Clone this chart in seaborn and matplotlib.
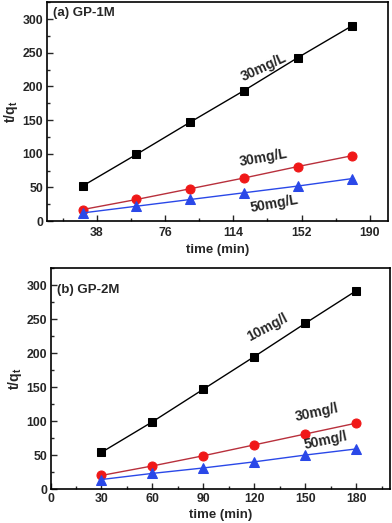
import matplotlib
matplotlib.use("Agg")
import matplotlib.pyplot as plt
import seaborn as sns
import pandas as pd
from matplotlib.ticker import MultipleLocator, FixedLocator

time = [30, 60, 90, 120, 150, 180]

# Panel (a) GP-1M
a_black = [52, 99, 147, 194, 243, 290]
a_red = [17, 32, 48, 64, 81, 97]
a_blue = [12, 22, 32, 42, 52, 63]
a_labels = ["30mg/L", "30mg/L", "50mg/L"]

# Panel (b) GP-2M
b_black = [54, 99, 147, 195, 244, 292]
b_red = [20, 34, 49, 65, 81, 97]
b_blue = [14, 23, 31, 40, 50, 59]
b_labels = ["10mg/l", "30mg/l", "50mg/l"]

a_xticks = [38, 76, 114, 152, 190]
b_xticks = [0, 30, 60, 90, 120, 150, 180]

sns.set_style("ticks")
plt.rcParams['font.family'] = ['Liberation Sans', 'DejaVu Sans']
plt.rcParams['mathtext.fontset'] = 'custom'
plt.rcParams['mathtext.bf'] = 'Liberation Sans:bold'
plt.rcParams['mathtext.rm'] = 'Liberation Sans'

fig = plt.figure(figsize=(3.92, 5.23), dpi=100)
ax1 = fig.add_axes([0.119, 0.5774, 0.870, 0.4193])
ax2 = fig.add_axes([0.129, 0.065, 0.866, 0.4231])

series_styles = [
    ("black", "s", "black", "black"),
    ("red", "o", "#b8303c", "#f01818"),
    ("blue", "^", "#2a48e8", "#2a48e8"),
]

def draw(ax, black, red, blue):
    df = pd.DataFrame({
        "time": time * 3,
        "val": black + red + blue,
        "s": ["black"] * 6 + ["red"] * 6 + ["blue"] * 6,
    })
    for name, mk, lc, mc in series_styles:
        sub = df[df["s"] == name]
        sns.lineplot(data=sub, x="time", y="val", ax=ax, color=lc, lw=1.0,
                     marker=mk, markersize=6.5 if mk != "s" else 6,
                     markerfacecolor=mc, markeredgecolor=mc, legend=False)

draw(ax1, a_black, a_red, a_blue)
draw(ax2, b_black, b_red, b_blue)

for ax in (ax1, ax2):
    ax.set_ylim(0, 326)
    ax.yaxis.set_major_locator(MultipleLocator(50))
    ax.yaxis.set_minor_locator(MultipleLocator(25))
    ax.tick_params(which='both', direction='in', top=False, right=False,
                   labelsize=8.8, width=1.0)
    ax.tick_params(which='major', length=4)
    ax.tick_params(which='minor', length=2.5)
    ax.tick_params(axis='y', pad=2.5)
    for sp in ax.spines.values():
        sp.set_visible(True)
        sp.set_linewidth(1.2)
        sp.set_color("black")
    ax.set_xlabel("time (min)", fontsize=9.5, fontweight='bold')
    ax.set_ylabel(r"$\mathbf{t/q_t}$", fontsize=10, labelpad=2)

ax1.set_xlim(10, 200)
ax1.xaxis.set_major_locator(FixedLocator(a_xticks))
ax1.xaxis.set_minor_locator(FixedLocator([19, 57, 95, 133, 171]))
ax1.set_xticklabels([str(v) for v in a_xticks])
ax1.tick_params(axis='x', pad=4)
ax1.xaxis.labelpad = 4

ax2.set_xlim(0, 200)
ax2.xaxis.set_major_locator(FixedLocator(b_xticks))
ax2.xaxis.set_minor_locator(MultipleLocator(15))
ax2.set_xticklabels([str(v) for v in b_xticks])
ax2.tick_params(axis='x', pad=3)
ax2.xaxis.labelpad = 3

for ax in (ax1, ax2):
    for lab in ax.get_xticklabels() + ax.get_yticklabels():
        lab.set_fontweight('bold')

ax1.text(0.018, 0.975, "(a) GP-1M", transform=ax1.transAxes, ha='left', va='top',
         fontsize=9.5, fontweight='bold')
ax2.text(0.02, 0.925, "(b) GP-2M", transform=ax2.transAxes, ha='left', va='top',
         fontsize=9.5, fontweight='bold')

# annotations (data coords)
ax1.text(131, 229, a_labels[0], rotation=25, fontsize=10, fontweight='bold', ha='center', va='center')
ax1.text(131, 94, a_labels[1], rotation=10, fontsize=10, fontweight='bold', ha='center', va='center')
ax1.text(137, 26, a_labels[2], rotation=10, fontsize=10, fontweight='bold', ha='center', va='center')

ax2.text(128, 238, b_labels[0], rotation=28, fontsize=10, fontweight='bold', ha='center', va='center')
ax2.text(157, 112, b_labels[1], rotation=12, fontsize=10, fontweight='bold', ha='center', va='center')
ax2.text(162, 72, b_labels[2], rotation=12, fontsize=10, fontweight='bold', ha='center', va='center')

fig.savefig("out.png", dpi=100)
